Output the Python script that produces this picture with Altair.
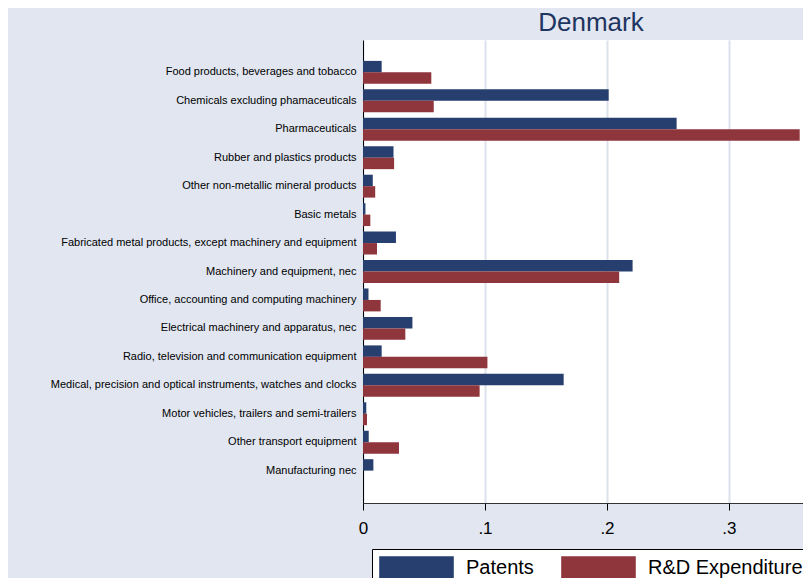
import altair as alt
import pandas as pd

categories = [
    "Food products, beverages and tobacco",
    "Chemicals excluding phamaceuticals",
    "Pharmaceuticals",
    "Rubber and plastics products",
    "Other non-metallic mineral products",
    "Basic metals",
    "Fabricated metal products, except machinery and equipment",
    "Machinery and equipment, nec",
    "Office, accounting and computing machinery",
    "Electrical machinery and apparatus, nec",
    "Radio, television and communication equipment",
    "Medical, precision and optical instruments, watches and clocks",
    "Motor vehicles, trailers and semi-trailers",
    "Other transport equipment",
    "Manufacturing nec",
]
patents = [0.0153, 0.2014, 0.2571, 0.025, 0.008, 0.002, 0.027, 0.221, 0.0045,
           0.0405, 0.0153, 0.1645, 0.0027, 0.0047, 0.0085]
rnd = [0.056, 0.058, 0.358, 0.0255, 0.010, 0.006, 0.0115, 0.210, 0.0145,
       0.0347, 0.102, 0.0956, 0.0033, 0.0295, 0.0]
series = ["Patents", "R&D Expenditure"]
colors = ["#263F6E", "#8F353C"]
x_ticks = [0, 0.1, 0.2, 0.3]

rows = []
for c, p, r in zip(categories, patents, rnd):
    rows.append({"sector": c, "series": series[0], "value": p})
    rows.append({"sector": c, "series": series[1], "value": r})
df = pd.DataFrame(rows)

BG = "#E1E6F0"
FONT = "Liberation Sans"

# symbol drawn as a wide rectangle starting at the symbol's left edge
rect_path = "M-1,-1H5.6V1H-1Z"

chart = alt.Chart(df).mark_bar().encode(
    y=alt.Y("sector:N", sort=categories,
            scale=alt.Scale(paddingInner=0.195, paddingOuter=0.735),
            axis=alt.Axis(title=None, labelFontSize=11, labelFont=FONT,
                          labelColor="black", ticks=False, labelPadding=7,
                          labelLimit=500, domainColor="black", domainWidth=1,
                          grid=False)),
    yOffset=alt.YOffset("series:N", sort=series,
                        scale=alt.Scale(paddingInner=0, paddingOuter=0)),
    x=alt.X("value:Q", scale=alt.Scale(domain=[0, 0.3607], nice=False, zero=True),
            axis=alt.Axis(title=None, values=x_ticks,
                          labelExpr="datum.value == 0 ? '0' : replace(format(datum.value, '.1f'), '0.', '.')",
                          labelFontSize=17, labelFont=FONT, labelColor="black",
                          tickSize=7, tickColor="black", tickWidth=1,
                          domainColor="#333333", domainWidth=1,
                          labelPadding=10, grid=True, gridColor="#DCE1EC",
                          gridWidth=2, labelFlush=False)),
    color=alt.Color("series:N", sort=series,
                    scale=alt.Scale(domain=series, range=colors),
                    legend=alt.Legend(title=None, orient="none", legendX=9,
                                      legendY=509, direction="horizontal",
                                      padding=7, strokeColor="black",
                                      fillColor="white", labelFontSize=20,
                                      labelFont=FONT, labelColor="black",
                                      symbolType=rect_path, symbolSize=511,
                                      symbolStrokeWidth=0, labelOffset=64,
                                      columnPadding=27, symbolOpacity=1,
                                      cornerRadius=0)),
).properties(
    width=440,
    height=463,
    title=alt.TitleParams("Denmark", fontSize=26, font=FONT, color="#1E3461",
                          fontWeight="normal", anchor="middle", frame="group",
                          offset=4, dx=8),
    autosize=alt.AutoSizeParams(type="none"),
    padding={"left": 355, "top": 32, "right": 0, "bottom": 75},
).configure(
    background=BG,
).configure_view(
    fill="white", stroke=None,
)

chart.save("out.html", embed_options={"renderer": "svg", "actions": False})
